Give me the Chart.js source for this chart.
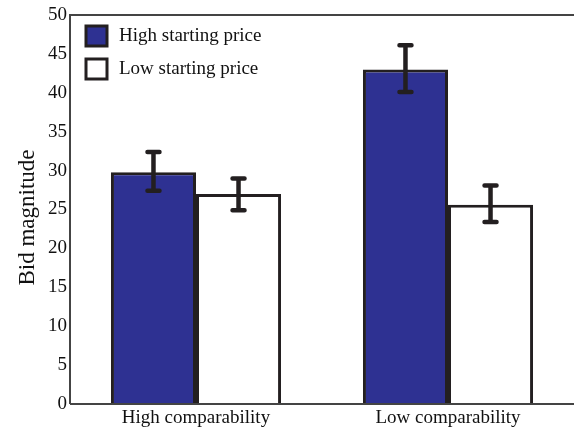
<!DOCTYPE html>
<html><head><meta charset="utf-8">
<script src="https://cdn.jsdelivr.net/npm/chart.js@4/dist/chart.umd.min.js"></script>
<style>html,body{margin:0;padding:0;background:#fff}#wrap{width:574px;height:431px}</style>
</head><body><div id="wrap"><canvas id="c" width="574" height="431"></canvas></div>
<script>
const categories = ["High comparability", "Low comparability"];
const seriesNames = ["High starting price", "Low starting price"];
const highStart = [29.8, 43.0];
const lowStart = [27.0, 25.6];
const highStartErrLow = [27.4, 40.1];
const highStartErrHigh = [32.4, 46.1];
const lowStartErrLow = [24.9, 23.4];
const lowStartErrHigh = [29.0, 28.1];
const yTicks = [0,5,10,15,20,25,30,35,40,45,50];
const yTitle = 'Bid magnitude';

const FONT = "'Liberation Serif','Times New Roman',serif";
const DARK = '#231f20';

const errorBars = {
  id: 'errorBars',
  afterDatasetsDraw(chart) {
    const ctx = chart.ctx, y = chart.scales.y;
    const errs = [[highStartErrLow, highStartErrHigh],[lowStartErrLow, lowStartErrHigh]];
    chart.data.datasets.forEach((ds, di) => {
      const meta = chart.getDatasetMeta(di);
      meta.data.forEach((bar, i) => {
        const x = bar.x;
        const lo = y.getPixelForValue(errs[di][0][i]);
        const hi = y.getPixelForValue(errs[di][1][i]);
        ctx.save();
        ctx.strokeStyle = DARK; ctx.lineWidth = 4.5; ctx.lineCap = 'round';
        ctx.beginPath();
        ctx.moveTo(x, lo); ctx.lineTo(x, hi);
        ctx.moveTo(x-6, lo); ctx.lineTo(x+6, lo);
        ctx.moveTo(x-6, hi); ctx.lineTo(x+6, hi);
        ctx.stroke();
        ctx.restore();
      });
    });
  }
};

const frame = {
  id: 'frame',
  afterDraw(chart) {
    const ctx = chart.ctx, a = chart.chartArea;
    ctx.save();
    ctx.strokeStyle = '#444'; ctx.lineWidth = 2;
    ctx.beginPath();
    ctx.moveTo(a.left, a.bottom); ctx.lineTo(a.left, a.top); ctx.lineTo(a.right, a.top);
    ctx.moveTo(a.left, a.bottom); ctx.lineTo(a.right, a.bottom);
    ctx.stroke();
    // y title
    ctx.save();
    ctx.translate(28, (a.top + a.bottom) / 2 + 8);
    ctx.rotate(-Math.PI / 2);
    ctx.font = '23px ' + FONT;
    ctx.fillStyle = '#111';
    ctx.textAlign = 'center'; ctx.textBaseline = 'middle';
    ctx.fillText(yTitle, 0, 0);
    ctx.restore();
    // legend
    ctx.font = '19px ' + FONT;
    ctx.textBaseline = 'middle';
    chart.data.datasets.forEach((ds, i) => {
      const bx = a.left + 16, by = a.top + 11 + i * 33;
      ctx.fillStyle = ds.backgroundColor;
      ctx.fillRect(bx, by, 21, 20);
      ctx.strokeStyle = DARK; ctx.lineWidth = 3;
      ctx.strokeRect(bx, by, 21, 20);
      ctx.fillStyle = '#111';
      ctx.fillText(ds.label, bx + 33, by + 10);
    });
    ctx.restore();
  }
};

new Chart(document.getElementById('c'), {
  type: 'bar',
  data: {
    labels: categories,
    datasets: [
      { label: seriesNames[0], data: highStart, backgroundColor: '#2e3192', borderColor: DARK, borderWidth: 3 },
      { label: seriesNames[1], data: lowStart, backgroundColor: '#ffffff', borderColor: DARK, borderWidth: 3 }
    ]
  },
  options: {
    responsive: false, animation: false,
    layout: { padding: { top: 15, right: 0, left: 0, bottom: 0 } },
    datasets: { bar: { barPercentage: 1, categoryPercentage: 0.675 } },
    plugins: { legend: { display: false }, tooltip: { enabled: false } },
    scales: {
      x: {
        grid: { display: false, drawTicks: false },
        border: { display: false },
        ticks: { color: '#111', font: { family: FONT, size: 19 }, padding: 3 },
        afterFit(s) { s.height = 27; }
      },
      y: {
        min: 0, max: 50,
        afterBuildTicks(s) { s.ticks = yTicks.map(v => ({ value: v })); },
        grid: { display: false, drawTicks: true, tickLength: 3, tickColor: '#444' },
        border: { display: false },
        ticks: { color: '#111', font: { family: FONT, size: 19 }, padding: 0 },
        afterFit(s) { s.width = 70; }
      }
    }
  },
  plugins: [errorBars, frame]
});
</script></body></html>
